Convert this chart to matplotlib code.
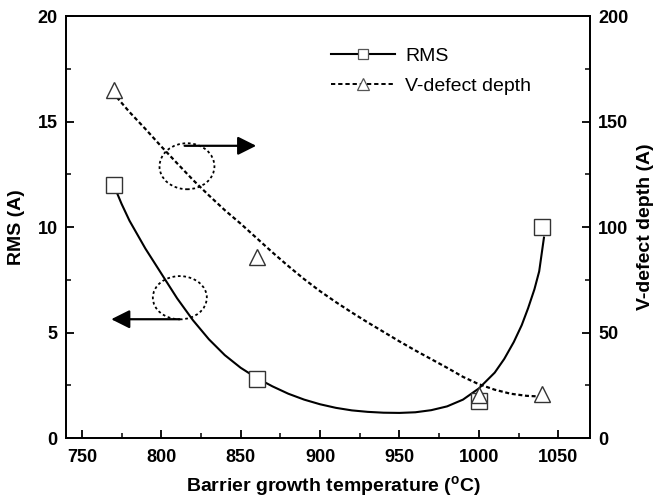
import matplotlib
matplotlib.use("Agg")
import matplotlib.pyplot as plt
from matplotlib.patches import Ellipse
from matplotlib.lines import Line2D
from matplotlib.ticker import MultipleLocator

plt.rcParams["font.family"] = ["Liberation Sans", "DejaVu Sans"]
plt.rcParams["font.weight"] = "bold"
plt.rcParams["axes.labelweight"] = "bold"
plt.rcParams["mathtext.fontset"] = "custom"
plt.rcParams["mathtext.rm"] = "Liberation Sans:bold"
plt.rcParams["mathtext.bf"] = "Liberation Sans:bold"

# ---- measured points ------------------------------------
temp = [770, 860, 1000, 1040]
rms = [12.0, 2.8, 1.75, 10.0]
vdepth = [165.0, 85.6, 20.5, 20.8]

# ---- fitted curves --------------------------------------
rms_fit_t = [770, 775, 780, 790, 800, 810, 820, 830, 840, 850, 860, 870,
             880, 890, 900, 910, 920, 930, 940, 950, 960, 970, 980, 990,
             1000, 1010, 1016, 1022, 1027, 1031, 1035, 1038, 1041]
rms_fit = [12.0, 11.1, 10.3, 8.98, 7.8, 6.62, 5.58, 4.68, 3.93, 3.33, 2.85,
           2.45, 2.1, 1.82, 1.6, 1.43, 1.31, 1.24, 1.2, 1.19, 1.22, 1.32,
           1.5, 1.82, 2.35, 3.1, 3.75, 4.55, 5.35, 6.15, 7.05, 7.9, 9.5]

vd_fit_t = [772, 780, 790, 800, 810, 820, 830, 840, 850, 860, 870, 880, 890,
            900, 910, 920, 930, 940, 950, 960, 970, 980, 990, 1000, 1010,
            1020, 1030, 1038]
vd_fit = [161.5, 154.5, 146.5, 138.2, 130.2, 122.3, 115.0, 108.0, 101.6,
          94.8, 88.0, 81.5, 75.3, 69.6, 64.4, 59.5, 54.8, 50.3, 45.8, 41.5,
          37.4, 33.3, 29.0, 25.5, 22.9, 21.0, 20.0, 19.7]

DOT = (0, (1.8, 1.2))
EDGE = "#333333"

fig = plt.figure(figsize=(6.61, 5.01), dpi=100)
ax = fig.add_axes([0.0998, 0.1257, 0.7928, 0.8423])
ax2 = ax.twinx()

# ---- RMS (left axis) ------------------------------------
ax.plot(rms_fit_t, rms_fit, "-", color="black", lw=1.5, zorder=2)
ax.plot(temp, rms, "s", ms=11, mfc="white", mec=EDGE, mew=1.0, zorder=4)

# ---- V-defect depth (right axis) ------------------------
ax2.plot(vd_fit_t, vd_fit, color="black", lw=1.6, linestyle=DOT, zorder=2)
ax2.plot(temp, vdepth, "^", ms=12, mfc="white", mec=EDGE, mew=1.0, zorder=4)

# ---- axes ----------------------------------------------
ax.set_xlim(740, 1070)
ax.set_ylim(0, 20)
ax2.set_ylim(0, 200)
ax.xaxis.set_major_locator(MultipleLocator(50))
ax.xaxis.set_minor_locator(MultipleLocator(25))
ax.yaxis.set_major_locator(MultipleLocator(5))
ax.yaxis.set_minor_locator(MultipleLocator(2.5))
ax2.yaxis.set_major_locator(MultipleLocator(50))
ax2.yaxis.set_minor_locator(MultipleLocator(25))

for a in (ax, ax2):
    for s in a.spines.values():
        s.set_linewidth(1.3)
    a.tick_params(which="major", direction="in", length=6, width=1.3,
                  labelsize=13)
    a.tick_params(which="minor", direction="in", length=3.5, width=1.1)
ax.tick_params(axis="x", which="both", top=False, pad=8)
ax.tick_params(axis="y", which="both", right=False, pad=6)
ax2.tick_params(axis="y", which="both", left=False, pad=6)

ax.set_xlabel(r"Barrier growth temperature (${}^{\mathbf{o}}$C)",
              fontsize=14, fontweight="bold")
ax.set_ylabel("RMS (A)", fontsize=14, fontweight="bold")
ax2.set_ylabel("V-defect depth (A)", fontsize=14, fontweight="bold")
ax.xaxis.set_label_coords(0.51, -0.085)
ax.yaxis.set_label_coords(-0.078, 0.5)
ax2.yaxis.set_label_coords(1.089, 0.5)

# ---- dotted ellipses + arrows -----------------------------
ax.add_patch(Ellipse((816.2, 12.88), 34.6, 2.18, fill=False, lw=1.3,
                     linestyle=(0, (1.5, 1.5)), ec="black", zorder=3))
ax.add_patch(Ellipse((811.7, 6.65), 34.0, 2.05, fill=False, lw=1.3,
                     linestyle=(0, (1.5, 1.5)), ec="black", zorder=3))
head = "-|>,head_length=0.8,head_width=0.4"
ax.annotate("", xy=(859.8, 13.85), xytext=(814.7, 13.85),
            arrowprops=dict(arrowstyle=head, lw=1.6, color="black",
                            mutation_scale=14, shrinkA=0, shrinkB=0))
ax.annotate("", xy=(768.5, 5.63), xytext=(811.5, 5.63),
            arrowprops=dict(arrowstyle=head, lw=1.6, color="black",
                            mutation_scale=14, shrinkA=0, shrinkB=0))

# ---- legend ---------------------------------------------
h_rms = Line2D([], [], color="black", lw=1.5, marker="s", ms=7,
               mfc="white", mec="#555555", mew=0.9)
h_vd = Line2D([], [], color="black", lw=1.4, linestyle=(0, (2.2, 1.5)),
              marker="^", ms=8, mfc="white", mec="#555555", mew=0.9)
ax2.legend([h_rms, h_vd], ["RMS", "V-defect depth"], loc="upper left",
           bbox_to_anchor=(0.506, 0.925), frameon=False, handlelength=3.3,
           handletextpad=0.5, labelspacing=0.6, borderpad=0,
           borderaxespad=0, prop={"size": 14, "weight": "normal"})

fig.savefig("out.png", dpi=100)
